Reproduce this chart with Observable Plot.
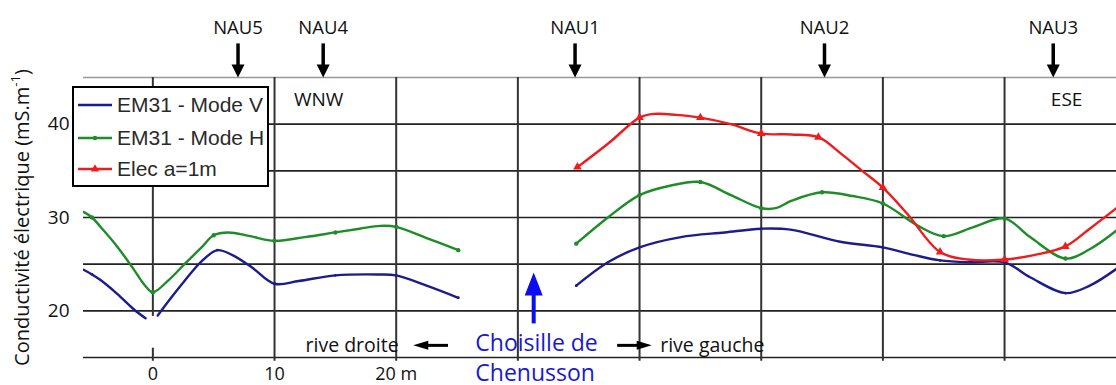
<!DOCTYPE html>
<html><head><meta charset="utf-8">
<script src="https://cdn.jsdelivr.net/npm/d3@7"></script>
<script src="https://cdn.jsdelivr.net/npm/@observablehq/plot@0.6"></script>
<style>
body{margin:0;background:#fff;}
#chart{position:relative;width:1116px;height:385px;}
</style>
</head><body><div id="chart"></div>
<script>
// ---- data ----
const seriesNames = ["EM31 - Mode V", "EM31 - Mode H", "Elec a=1m"];
const seriesColors = ["#1c1c8c", "#1f8c2a", "#ee1c1c"];

// EM31 - Mode V (three segments)
const vA_x = [-5.7, -5, -4.3, -3, -1.6, -0.6];
const vA_v = [24.4, 23.9, 23.3, 21.9, 20.2, 19.2];
const vB_x = [0.4, 1.5, 2.6, 4, 5.3, 6.5, 8.1, 10, 12, 15, 18.5, 20, 22.5, 25.1];
const vB_v = [19.5, 21.4, 23.2, 25.3, 26.5, 26.0, 24.7, 22.9, 23.2, 23.8, 23.9, 23.8, 22.7, 21.4];
const vC_x = [34.8, 37.4, 40, 43.4, 47, 50, 52.4, 56.5, 60, 62.5, 64.7, 67, 70, 72.1, 75, 77, 79.2];
const vC_v = [22.7, 25.2, 26.8, 27.9, 28.4, 28.8, 28.7, 27.4, 26.8, 26.0, 25.4, 25.2, 25.2, 23.6, 21.9, 22.7, 24.5];

// EM31 - Mode H (two segments)
const hA_x = [-5.7, -5, -4.3, -3, -1.6, -0.7, 0, 1.3, 2.6, 4, 5, 6.2, 8, 10, 12.5, 15, 17, 18.7, 20, 22.5, 25.1];
const hA_v = [30.6, 30.0, 29.0, 27.0, 24.5, 22.8, 22.0, 23.3, 25.0, 26.8, 28.1, 28.4, 28.0, 27.5, 27.9, 28.4, 28.8, 29.1, 29.0, 27.8, 26.5];
const hB_x = [34.8, 37.4, 40, 42.5, 45, 47.5, 50, 51.2, 52.5, 55, 57.5, 60, 62.9, 65, 67.5, 70, 72.1, 75, 77, 79.2];
const hB_v = [27.2, 30.0, 32.4, 33.4, 33.8, 32.4, 31.0, 31.0, 31.8, 32.7, 32.3, 31.5, 29.1, 28.0, 29.0, 29.9, 27.9, 25.6, 26.6, 28.6];

// Elec a=1m
const e_x = [34.9, 37.4, 40, 41.2, 43, 45, 47.5, 50, 52.5, 54.7, 56.5, 58.3, 60, 62, 64.7, 67, 70, 72.5, 75, 77, 79.2];
const e_v = [35.4, 37.9, 40.7, 41.1, 41.0, 40.7, 40.0, 39.0, 38.9, 38.6, 36.9, 35.0, 33.2, 30.4, 26.3, 25.5, 25.5, 26.0, 26.9, 28.8, 31.0];

// axes
const xTicks = [0, 10, 20];
const xTickLabels = ["0", "10", "20 m"];
const yTicks = [20, 30, 40];
const xGrid = [10, 20, 30, 40, 50, 60, 70];
const zeroGridGap = [19.4, 16.0];   // the x = 0 line is broken here
const yGrid = [15, 20, 25, 30, 35, 40];
const xDomain = [-5.7, 79.2];
const yDomain = [15, 45];
const yLabel = "Conductivité électrique (mS.m";

// annotations
const probeNames = ["NAU5", "NAU4", "NAU1", "NAU2", "NAU3"];
const probeX = [7.0, 14.0, 34.7, 55.2, 74.0];
const westLabel = {t: "WNW", x: 11.6};
const eastLabel = {t: "ESE", x: 75.1};
const directionY = 42.6;
const riverX = 31.3;
const riverTip = 24.1, riverBase = 18.6;
const riverLines = ["Choisille de", "Chenusson"];
const riverLineY = [16.5, 13.3];
const riverTextX = 26.5;
const bankY = 16.3;
const rightBank = {text: "rive droite", x: 20.2, arrowTip: 21.4, arrowEnd: 24.3};
const leftBank = {text: "rive gauche", x: 41.7, arrowTip: 41.0, arrowEnd: 38.2};

// ---- build tables ----
function seg(series, segment, xs, vs) {
  return xs.map((x, i) => ({series, seg: series + segment, x, v: vs[i]}));
}
const rows = [
  ...seg(seriesNames[0], "A", vA_x, vA_v),
  ...seg(seriesNames[0], "B", vB_x, vB_v),
  ...seg(seriesNames[0], "C", vC_x, vC_v),
  ...seg(seriesNames[1], "A", hA_x, hA_v),
  ...seg(seriesNames[1], "B", hB_x, hB_v),
  ...seg(seriesNames[2], "A", e_x, e_v)
];
const markerRows = rows.filter(d => Math.abs(d.x - Math.round(d.x / 5) * 5) < 0.31);
const probes = probeNames.map((name, i) => ({name, x: probeX[i]}));
const riverText = riverLines.map((t, i) => ({t, y: riverLineY[i]}));
const zeroSegments = [{y1: yDomain[1], y2: zeroGridGap[0]}, {y1: zeroGridGap[1], y2: 14.6}];

// custom symbols (tip at origin)
const downTri = {draw(c){ c.moveTo(0,0); c.lineTo(-6.5,-13); c.lineTo(6.5,-13); c.closePath(); }};
const upTri = {draw(c){ c.moveTo(0,0); c.lineTo(-9,23); c.lineTo(9,23); c.closePath(); }};
const leftTri = {draw(c){ c.moveTo(0,0); c.lineTo(15,-4.5); c.lineTo(15,4.5); c.closePath(); }};
const rightTri = {draw(c){ c.moveTo(0,0); c.lineTo(-15,-4.5); c.lineTo(-15,4.5); c.closePath(); }};

const blueText = "#1818d0";
const blueArrow = "#0c0cf0";

const plot = Plot.plot({
  width: 1116, height: 385,
  marginLeft: 83, marginRight: 0, marginTop: 77, marginBottom: 28,
  x: {domain: xDomain, label: null},
  y: {domain: yDomain, label: null},
  color: {domain: seriesNames, range: seriesColors},
  style: {fontFamily: "'Open Sans', sans-serif", fontSize: "18px", color: "#111", background: "white", overflow: "visible"},
  marks: [
    Plot.ruleY([yDomain[1]], {stroke: "#999", strokeWidth: 1.6}),
    Plot.ruleY(yGrid, {stroke: "#222", strokeWidth: 1.6}),
    Plot.ruleX(xGrid, {y1: yDomain[1], y2: 14.6, stroke: "#333", strokeWidth: 2}),
    Plot.ruleX(zeroSegments, {x: 0, y1: "y1", y2: "y2", stroke: "#333", strokeWidth: 2}),
    Plot.axisX({ticks: xTicks, tickFormat: d => xTickLabels[xTicks.indexOf(d)], tickSize: 0, tickPadding: 10, fontSize: 18}),
    Plot.axisY({ticks: yTicks, tickSize: 0, tickPadding: 14, fontSize: 19, label: null}),
    Plot.line(rows, {x: "x", y: "v", z: "seg", stroke: "series", strokeWidth: 2.4, curve: "catmull-rom", clip: true}),
    Plot.dot(markerRows.filter(d => d.series === seriesNames[0]), {x: "x", y: "v", r: 1.4, fill: seriesColors[0]}),
    Plot.dot(markerRows.filter(d => d.series === seriesNames[1]), {x: "x", y: "v", r: 2.2, fill: seriesColors[1]}),
    Plot.dot(markerRows.filter(d => d.series === seriesNames[2]), {x: "x", y: "v", r: 3.2, symbol: "triangle", fill: seriesColors[2]}),
    // probe annotations
    Plot.text(probes, {x: "x", text: "name", frameAnchor: "top", dy: -57, fontSize: 18.5}),
    Plot.ruleX(probes, {x: "x", y1: 48.6, y2: 46.0, stroke: "#000", strokeWidth: 3.5}),
    Plot.dot(probes, {x: "x", frameAnchor: "top", symbol: downTri, fill: "#000", stroke: "none"}),
    Plot.text([westLabel], {x: "x", y: directionY, text: "t", textAnchor: "start", fontSize: 19}),
    Plot.text([eastLabel], {x: "x", y: directionY, text: "t", textAnchor: "middle", fontSize: 19}),
    // river
    Plot.ruleX([riverX], {y1: riverBase, y2: riverTip - 2.2, stroke: blueArrow, strokeWidth: 4}),
    Plot.dot([riverX], {x: d => d, y: riverTip, symbol: upTri, fill: blueArrow, stroke: "none"}),
    Plot.text(riverText, {x: riverTextX, y: "y", text: "t", textAnchor: "start", fontSize: 23, fill: blueText}),
    // banks
    Plot.text([rightBank], {x: "x", y: bankY, text: "text", textAnchor: "end", fontSize: 19.5}),
    Plot.ruleY([bankY], {x1: rightBank.arrowTip + 1, x2: rightBank.arrowEnd, stroke: "#000", strokeWidth: 3}),
    Plot.dot([rightBank], {x: "arrowTip", y: bankY, symbol: leftTri, fill: "#000", stroke: "none"}),
    Plot.text([leftBank], {x: "x", y: bankY, text: "text", textAnchor: "start", fontSize: 19.5}),
    Plot.ruleY([bankY], {x1: leftBank.arrowEnd, x2: leftBank.arrowTip - 1, stroke: "#000", strokeWidth: 3}),
    Plot.dot([leftBank], {x: "arrowTip", y: bankY, symbol: rightTri, fill: "#000", stroke: "none"}),
    // y label
    Plot.text([yLabel], {frameAnchor: "left", dx: -61, rotate: -90, fontSize: 20, textAnchor: "middle", text: d => d})
  ]
});
document.getElementById("chart").appendChild(plot);

// superscript on the y label
const svg = d3.select(plot);
svg.selectAll("text").filter(function(){ return this.textContent === yLabel; }).each(function(){
  const t = d3.select(this);
  t.text(yLabel);
  t.append("tspan").attr("baseline-shift", "super").attr("font-size", 13).text("-1");
  t.append("tspan").text(")");
});

// legend box inside the frame
const lg = svg.append("g").attr("font-family", "'Liberation Sans', Arial, sans-serif").attr("font-size", 21).attr("text-anchor", "start");
lg.append("rect").attr("x", 73).attr("y", 87).attr("width", 195).attr("height", 99)
  .attr("fill", "white").attr("stroke", "#000").attr("stroke-width", 2);
const rowY = [105, 138, 169];
seriesNames.forEach((name, i) => {
  lg.append("line").attr("x1", 78).attr("x2", 112).attr("y1", rowY[i]).attr("y2", rowY[i])
    .attr("stroke", seriesColors[i]).attr("stroke-width", 2.4);
  if (i === 1) lg.append("circle").attr("cx", 95).attr("cy", rowY[i]).attr("r", 2.2).attr("fill", seriesColors[i]);
  if (i === 2) lg.append("path").attr("d", d3.symbol(d3.symbolTriangle, 30)()).attr("transform", `translate(95,${rowY[i]})`).attr("fill", seriesColors[i]);
  lg.append("text").attr("x", 117).attr("y", rowY[i]).attr("dy", "0.35em").attr("text-anchor", "start").attr("fill", "#2a2a2a").text(name);
});
</script>
</body></html>
